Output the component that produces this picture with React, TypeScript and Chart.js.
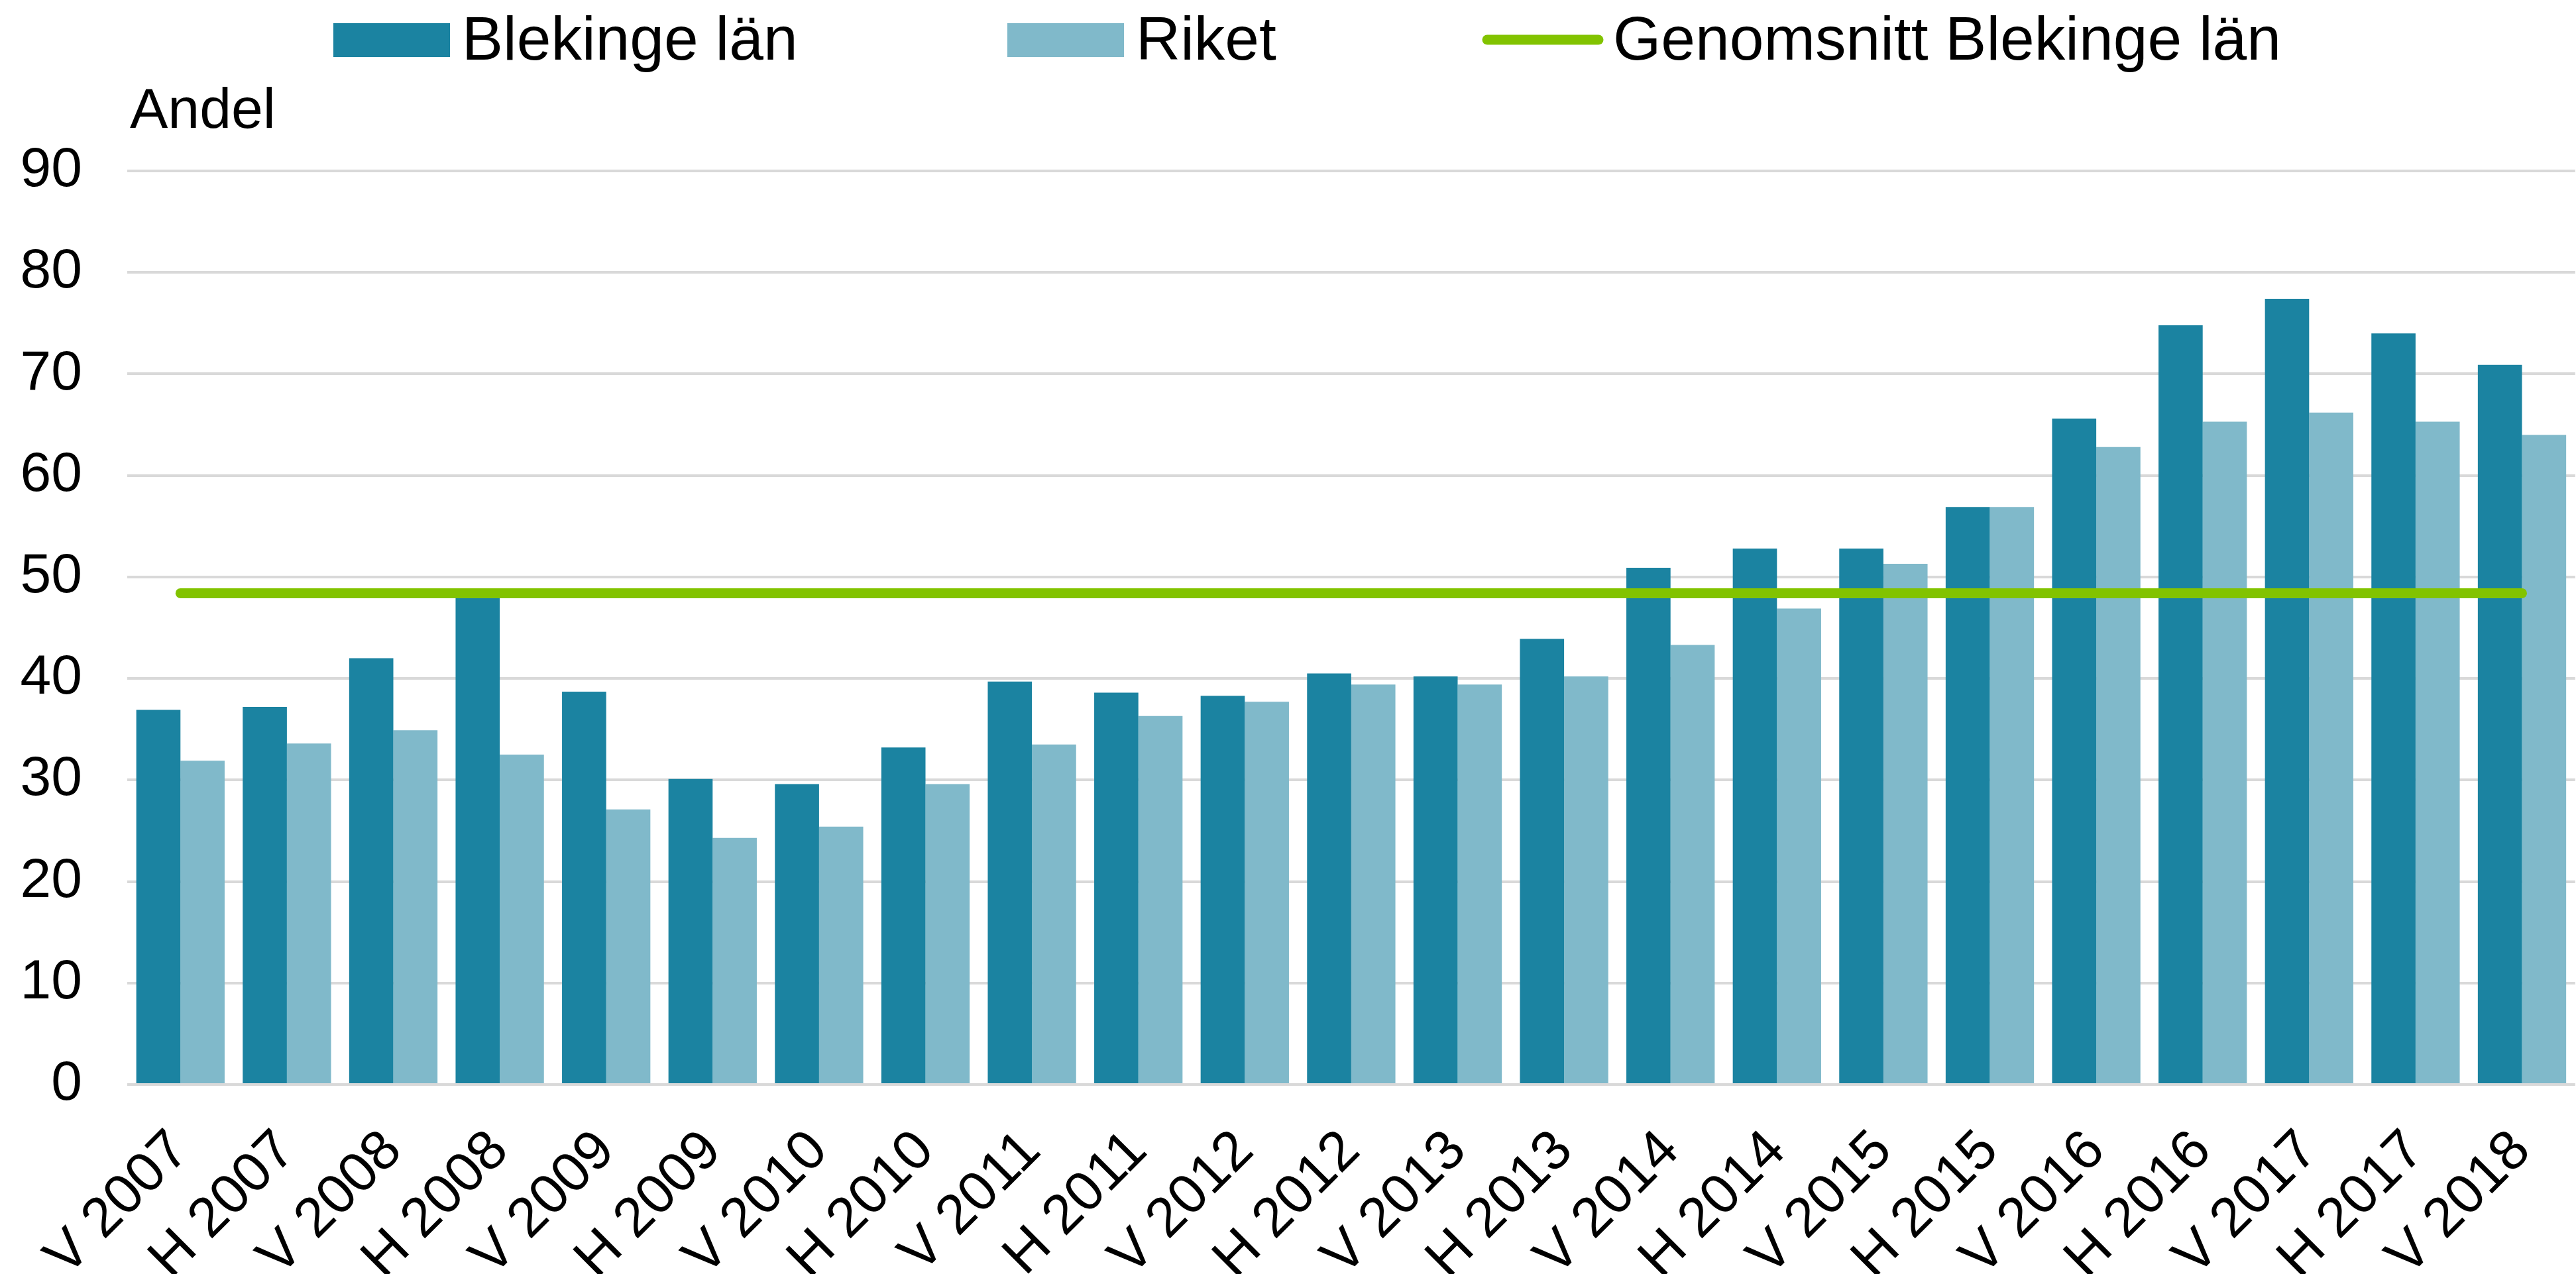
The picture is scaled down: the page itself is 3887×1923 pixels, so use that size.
import React, { useEffect, useRef } from "react";
import { Chart, registerables } from "chart.js";

Chart.register(...registerables);

const categories = [
  "V 2007", "H 2007", "V 2008", "H 2008", "V 2009", "H 2009", "V 2010", "H 2010",
  "V 2011", "H 2011", "V 2012", "H 2012", "V 2013", "H 2013", "V 2014", "H 2014",
  "V 2015", "H 2015", "V 2016", "H 2016", "V 2017", "H 2017", "V 2018",
];

const blekinge = [
  36.9, 37.2, 42.0, 47.9, 38.7, 30.1, 29.6, 33.2,
  39.7, 38.6, 38.3, 40.5, 40.2, 43.9, 50.9, 52.8,
  52.8, 56.9, 65.6, 74.8, 77.4, 74.0, 70.9,
];

const riket = [
  31.9, 33.6, 34.9, 32.5, 27.1, 24.3, 25.4, 29.6,
  33.5, 36.3, 37.7, 39.4, 39.4, 40.2, 43.3, 46.9,
  51.3, 56.9, 62.8, 65.3, 66.2, 65.3, 64.0,
];

const averageBlekinge = 48.4;

const yTicks = [0, 10, 20, 30, 40, 50, 60, 70, 80, 90];

const FONT = "'Liberation Sans', Arial, sans-serif";
const DARK = "#1b83a1";
const LIGHT = "#80b9ca";
const GREEN = "#82c300";

const legendPlugin = {
  id: "customLegend",
  afterDraw(chart: any) {
    const ctx = chart.ctx;
    const ds = chart.data.datasets;
    ctx.save();
    ctx.fillStyle = "#000";
    ctx.font = `93px ${FONT}`;
    ctx.textBaseline = "alphabetic";
    ctx.textAlign = "left";
    // item 1
    ctx.fillStyle = ds[0].backgroundColor;
    ctx.fillRect(503, 35, 176, 51);
    ctx.fillStyle = "#000";
    ctx.fillText(ds[0].label, 697, 90);
    // item 2
    ctx.fillStyle = ds[1].backgroundColor;
    ctx.fillRect(1520, 35, 176, 51);
    ctx.fillStyle = "#000";
    ctx.fillText(ds[1].label, 1714, 90);
    // item 3
    ctx.strokeStyle = ds[2].borderColor;
    ctx.lineWidth = 15;
    ctx.lineCap = "round";
    ctx.beginPath();
    ctx.moveTo(2244, 60);
    ctx.lineTo(2412, 60);
    ctx.stroke();
    ctx.fillStyle = "#000";
    ctx.fillText(ds[2].label, 2434, 90);
    // axis title
    ctx.font = `86px ${FONT}`;
    ctx.fillText("Andel", 196, 193);
    ctx.restore();
  },
};

export default function App() {
  const ref = useRef<HTMLCanvasElement | null>(null);

  useEffect(() => {
    document.body.style.margin = "0";
    document.body.style.overflow = "hidden";
    const canvas = ref.current!;
    const chart = new Chart(canvas, {
      type: "bar",
      data: {
        labels: categories,
        datasets: [
          {
            type: "bar",
            label: "Blekinge län",
            data: blekinge,
            backgroundColor: DARK,
            borderWidth: 0,
            categoryPercentage: 0.83,
            barPercentage: 1.0,
            order: 1,
          },
          {
            type: "bar",
            label: "Riket",
            data: riket,
            backgroundColor: LIGHT,
            borderWidth: 0,
            categoryPercentage: 0.83,
            barPercentage: 1.0,
            order: 1,
          },
          {
            type: "line",
            label: "Genomsnitt Blekinge län",
            data: categories.map(() => averageBlekinge),
            borderColor: GREEN,
            backgroundColor: GREEN,
            borderWidth: 15,
            borderCapStyle: "round",
            pointRadius: 0,
            fill: false,
            order: 0,
          } as any,
        ],
      },
      options: {
        responsive: false,
        animation: false,
        devicePixelRatio: 1,
        layout: { padding: { top: 258, right: 10, bottom: 0, left: 0 } },
        plugins: {
          legend: { display: false },
          tooltip: { enabled: false },
          title: { display: false },
        },
        scales: {
          x: {
            offset: true,
            grid: { display: false, drawTicks: false },
            border: { display: false },
            ticks: {
              autoSkip: false,
              maxRotation: 45,
              minRotation: 45,
              padding: 51,
              color: "#000",
              font: { family: FONT, size: 84 },
            },
            afterFit(scale: any) {
              scale.height = 286;
            },
          },
          y: {
            min: 0,
            max: 90,
            afterBuildTicks(scale: any) {
              scale.ticks = yTicks.map((v) => ({ value: v }));
            },
            grid: { color: "#d9d9d9", lineWidth: 4, drawTicks: false },
            border: { display: false },
            ticks: {
              padding: 68,
              color: "#000",
              font: { family: FONT, size: 84 },
            },
            afterFit(scale: any) {
              scale.width = 192;
            },
          },
        },
      },
      plugins: [legendPlugin],
    });
    return () => chart.destroy();
  }, []);

  return (
    <div
      style={{
        position: "fixed",
        left: 0,
        top: 0,
        width: 3887,
        height: 1923,
        overflow: "hidden",
        background: "#fff",
      }}
    >
      <canvas ref={ref} width={3928} height={1923} style={{ display: "block" }} />
    </div>
  );
}
